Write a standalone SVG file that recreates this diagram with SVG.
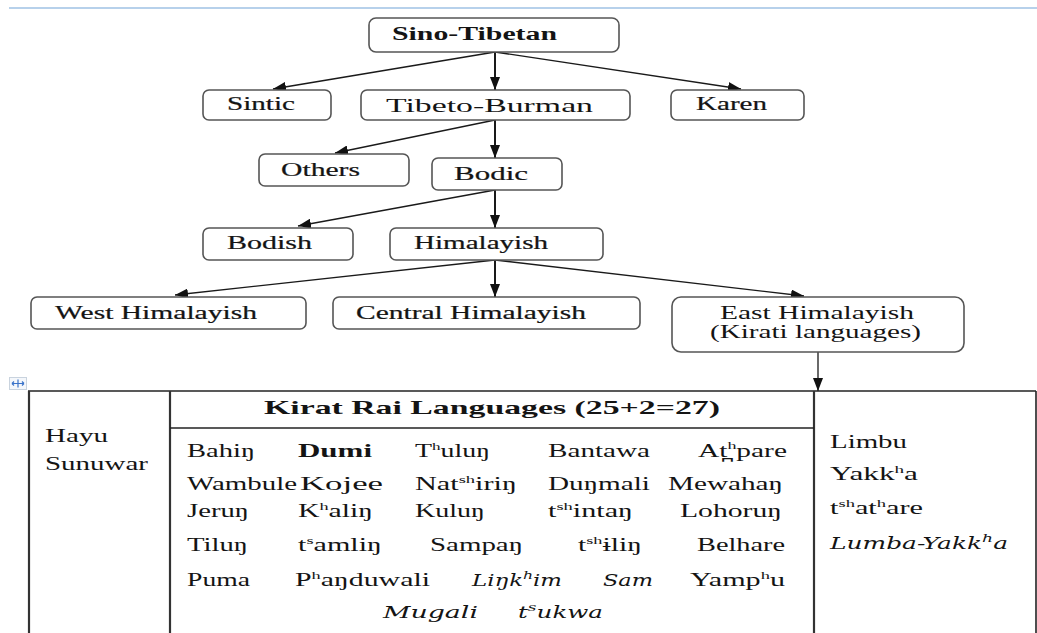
<svg xmlns="http://www.w3.org/2000/svg" width="1037" height="633" viewBox="0 0 1037 633">
<style>
.box{fill:#fff;stroke:#555;stroke-width:1.6}
.t{font-family:"Liberation Serif","Times New Roman",serif;fill:#141414}
.n{font-size:18px}
.m{font-size:18px;stroke:#141414;stroke-width:0.2}
.b{font-weight:bold}
.tb{font-size:19px}
.cell{font-size:18px}
.it{font-family:"DejaVu Serif","Liberation Serif",serif;font-style:italic;font-size:16px;fill:#141414}
.sup{font-size:11px}
.edge{stroke:#1a1a1a;stroke-width:1.3;fill:none}
.vedge{stroke:#1a1a1a;stroke-width:2;fill:none}
.rule{stroke:#222;stroke-width:1.6}
.rule2{stroke:#333;stroke-width:2.2}
</style>
<defs>
<marker id="ah" markerUnits="userSpaceOnUse" markerWidth="14" markerHeight="10" refX="13" refY="5" orient="auto">
<path d="M0,0 L13,5 L0,10 Z" fill="#111"/>
</marker>
</defs>
<rect width="1037" height="633" fill="#fff"/>
<line x1="9" y1="8" x2="1037" y2="8" stroke="#9fc2e4" stroke-width="1.5"/>

<g id="connectors">
<line class="edge" x1="495" y1="52" x2="273" y2="89" marker-end="url(#ah)"/>
<line class="vedge" x1="495" y1="52" x2="495" y2="90" marker-end="url(#ah)"/>
<line class="edge" x1="495" y1="52" x2="741" y2="89" marker-end="url(#ah)"/>
<line class="edge" x1="495" y1="120" x2="335" y2="153" marker-end="url(#ah)"/>
<line class="vedge" x1="495" y1="120" x2="495" y2="158" marker-end="url(#ah)"/>
<line class="edge" x1="495" y1="190" x2="298" y2="226" marker-end="url(#ah)"/>
<line class="vedge" x1="495" y1="190" x2="495" y2="228" marker-end="url(#ah)"/>
<line class="edge" x1="495" y1="260" x2="175" y2="295" marker-end="url(#ah)"/>
<line class="vedge" x1="495" y1="260" x2="495" y2="297" marker-end="url(#ah)"/>
<line class="edge" x1="495" y1="260" x2="804" y2="296" marker-end="url(#ah)"/>
<line class="edge" x1="818" y1="352" x2="818" y2="391" marker-end="url(#ah)"/>
</g>

<g id="n-sino-tibetan">
<rect class="box" x="369" y="18" width="250" height="34" rx="7"/>
<text class="t n b" x="392" y="40" textLength="165" lengthAdjust="spacingAndGlyphs">Sino-Tibetan</text>
</g>
<g id="n-sintic">
<rect class="box" x="203" y="90" width="128" height="30" rx="6"/>
<text class="t m" x="227" y="110" textLength="68" lengthAdjust="spacingAndGlyphs">Sintic</text>
</g>
<g id="n-tibeto-burman">
<rect class="box" x="361" y="90" width="269" height="30" rx="6"/>
<text class="t tb" x="386" y="112" textLength="207" lengthAdjust="spacingAndGlyphs">Tibeto-Burman</text>
</g>
<g id="n-karen">
<rect class="box" x="671" y="90" width="133" height="30" rx="6"/>
<text class="t m" x="696" y="110" textLength="71" lengthAdjust="spacingAndGlyphs">Karen</text>
</g>
<g id="n-others">
<rect class="box" x="259" y="154" width="150" height="32" rx="6"/>
<text class="t m" x="281" y="176" textLength="79" lengthAdjust="spacingAndGlyphs">Others</text>
</g>
<g id="n-bodic">
<rect class="box" x="432" y="158" width="130" height="32" rx="6"/>
<text class="t m" x="454" y="180" textLength="74" lengthAdjust="spacingAndGlyphs">Bodic</text>
</g>
<g id="n-bodish">
<rect class="box" x="203" y="228" width="150" height="32" rx="6"/>
<text class="t m" x="227" y="249" textLength="85" lengthAdjust="spacingAndGlyphs">Bodish</text>
</g>
<g id="n-himalayish">
<rect class="box" x="390" y="228" width="213" height="32" rx="6"/>
<text class="t m" x="414" y="249" textLength="134" lengthAdjust="spacingAndGlyphs">Himalayish</text>
</g>
<g id="n-west">
<rect class="box" x="31" y="297" width="275" height="32" rx="6"/>
<text class="t m" x="55" y="319" textLength="202" lengthAdjust="spacingAndGlyphs">West Himalayish</text>
</g>
<g id="n-central">
<rect class="box" x="333" y="297" width="307" height="32" rx="6"/>
<text class="t m" x="356" y="319" textLength="230" lengthAdjust="spacingAndGlyphs">Central Himalayish</text>
</g>
<g id="n-east">
<rect class="box" x="672" y="297" width="292" height="55" rx="9"/>
<text class="t n" x="720" y="319" textLength="194" lengthAdjust="spacingAndGlyphs">East Himalayish</text>
<text class="t n" x="710" y="338" textLength="211" lengthAdjust="spacingAndGlyphs">(Kirati languages)</text>
</g>

<g id="table">
<rect x="9.5" y="377.5" width="17" height="12" fill="#f4f7fb" stroke="#c9d3de" stroke-width="1"/>
<path d="M12,383.5 H24 M18,379.5 V387.5 M12,383.5 l2,-2 M12,383.5 l2,2 M24,383.5 l-2,-2 M24,383.5 l-2,2" stroke="#3a73c9" stroke-width="1.2" fill="none"/>
<line class="rule" x1="28" y1="391" x2="1036" y2="391"/>
<line class="rule2" x1="29" y1="391" x2="29" y2="633"/>
<line class="rule2" x1="170" y1="391" x2="170" y2="633"/>
<line class="rule2" x1="814" y1="391" x2="814" y2="633"/>
<line class="rule" x1="1036" y1="391" x2="1036" y2="633"/>
<line class="rule" x1="170" y1="428" x2="814" y2="428" stroke="#555"/>

<text class="t b" font-size="19" x="264" y="414" textLength="456" lengthAdjust="spacingAndGlyphs">Kirat Rai Languages (25+2=27)</text>

<text class="t cell" x="45" y="442" textLength="63" lengthAdjust="spacingAndGlyphs">Hayu</text>
<text class="t cell" x="45" y="470" textLength="103" lengthAdjust="spacingAndGlyphs">Sunuwar</text>

<text class="t cell" x="187" y="457" textLength="68" lengthAdjust="spacingAndGlyphs">Bahiŋ</text>
<text class="t cell b" x="298" y="457" textLength="74" lengthAdjust="spacingAndGlyphs">Dumi</text>
<text class="t cell" x="415" y="457" textLength="75" lengthAdjust="spacingAndGlyphs">T<tspan class="sup" dy="-7">h</tspan><tspan dy="7">uluŋ</tspan></text>
<text class="t cell" x="548" y="457" textLength="102" lengthAdjust="spacingAndGlyphs">Bantawa</text>
<text class="t cell" x="698" y="457" textLength="89" lengthAdjust="spacingAndGlyphs">At̪<tspan class="sup" dy="-8">h</tspan><tspan dy="8">pare</tspan></text>

<text class="t cell" x="187" y="490" textLength="110" lengthAdjust="spacingAndGlyphs">Wambule</text>
<text class="t cell" x="300" y="490" textLength="83" lengthAdjust="spacingAndGlyphs">Kojee</text>
<text class="t cell" x="415" y="490" textLength="102" lengthAdjust="spacingAndGlyphs">Nat<tspan class="sup" dy="-7">sh</tspan><tspan dy="7">iriŋ</tspan></text>
<text class="t cell" x="548" y="490" textLength="102" lengthAdjust="spacingAndGlyphs">Duŋmali</text>
<text class="t cell" x="668" y="490" textLength="115" lengthAdjust="spacingAndGlyphs">Mewahaŋ</text>

<text class="t cell" x="187" y="517" textLength="62" lengthAdjust="spacingAndGlyphs">Jeruŋ</text>
<text class="t cell" x="298" y="517" textLength="75" lengthAdjust="spacingAndGlyphs">K<tspan class="sup" dy="-7">h</tspan><tspan dy="7">aliŋ</tspan></text>
<text class="t cell" x="415" y="517" textLength="70" lengthAdjust="spacingAndGlyphs">Kuluŋ</text>
<text class="t cell" x="548" y="517" textLength="85" lengthAdjust="spacingAndGlyphs">t<tspan class="sup" dy="-7">sh</tspan><tspan dy="7">intaŋ</tspan></text>
<text class="t cell" x="680" y="517" textLength="102" lengthAdjust="spacingAndGlyphs">Lohoruŋ</text>

<text class="t cell" x="187" y="551" textLength="61" lengthAdjust="spacingAndGlyphs">Tiluŋ</text>
<text class="t cell" x="298" y="551" textLength="84" lengthAdjust="spacingAndGlyphs">t<tspan class="sup" font-size="8" dy="-7">s</tspan><tspan dy="7">amliŋ</tspan></text>
<text class="t cell" x="430" y="551" textLength="93" lengthAdjust="spacingAndGlyphs">Sampaŋ</text>
<text class="t cell" x="578" y="551" textLength="64" lengthAdjust="spacingAndGlyphs">t<tspan class="sup" dy="-7">sh</tspan><tspan dy="7">ɨliŋ</tspan></text>
<text class="t cell" x="697" y="551" textLength="88" lengthAdjust="spacingAndGlyphs">Belhare</text>

<text class="t cell" x="187" y="586" textLength="63" lengthAdjust="spacingAndGlyphs">Puma</text>
<text class="t cell" x="295" y="586" textLength="135" lengthAdjust="spacingAndGlyphs">P<tspan class="sup" dy="-7">h</tspan><tspan dy="7">aŋduwali</tspan></text>
<text class="it" x="472" y="586" textLength="90" lengthAdjust="spacingAndGlyphs">Liŋk<tspan class="sup" dy="-7">h</tspan><tspan dy="7">im</tspan></text>
<text class="it" x="603" y="586" textLength="50" lengthAdjust="spacingAndGlyphs">Sam</text>
<text class="t cell" x="690" y="586" textLength="95" lengthAdjust="spacingAndGlyphs">Yamp<tspan class="sup" dy="-7">h</tspan><tspan dy="7">u</tspan></text>

<text class="it" x="383" y="618" textLength="95" lengthAdjust="spacingAndGlyphs">Mugali</text>
<text class="it" x="518" y="618" textLength="85" lengthAdjust="spacingAndGlyphs">t<tspan class="sup" font-size="8" dy="-7">s</tspan><tspan dy="7">ukwa</tspan></text>

<text class="t cell" x="830" y="448" textLength="77" lengthAdjust="spacingAndGlyphs">Limbu</text>
<text class="t cell" x="830" y="480" textLength="88" lengthAdjust="spacingAndGlyphs">Yakk<tspan class="sup" dy="-7">h</tspan><tspan dy="7">a</tspan></text>
<text class="t cell" x="830" y="514" textLength="93" lengthAdjust="spacingAndGlyphs">t<tspan class="sup" dy="-7">sh</tspan><tspan dy="7">at</tspan><tspan class="sup" dy="-7">h</tspan><tspan dy="7">are</tspan></text>
<text class="it" x="830" y="549" textLength="178" lengthAdjust="spacingAndGlyphs">Lumba-Yakk<tspan class="sup" dy="-7">h</tspan><tspan dy="7">a</tspan></text>
</g>
</svg>
